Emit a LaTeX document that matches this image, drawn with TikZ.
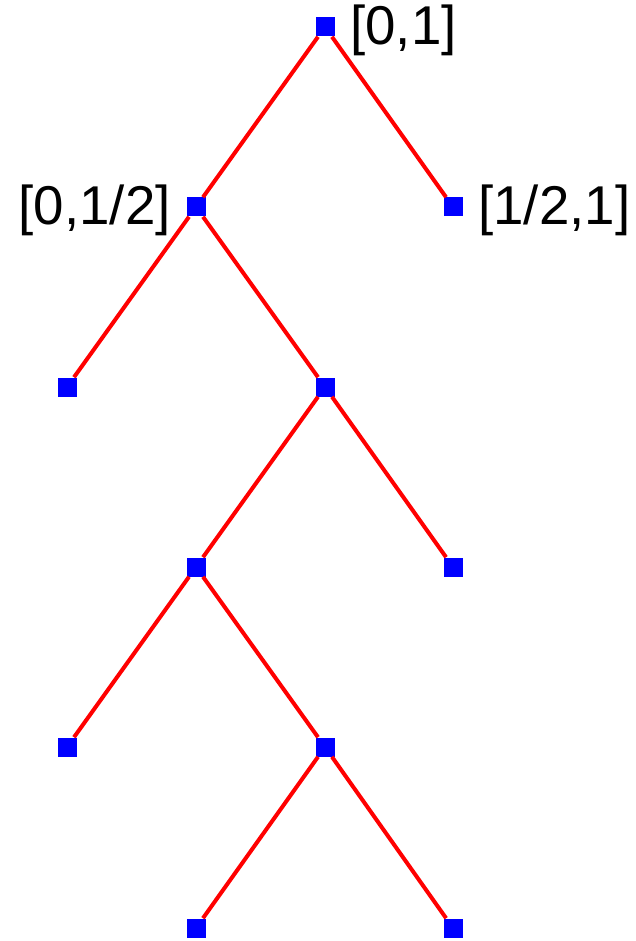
\documentclass[tikz,border=0pt]{standalone}
\usepackage{fontspec}
\setmainfont{Liberation Sans}
\usetikzlibrary{positioning}

\tikzset{
  vert/.style={fill=blue, minimum size=14.25pt, inner sep=0pt},
  edge/.style={red, line width=3pt},
  lab/.style={font=\fontsize{41}{49}\selectfont, inner sep=0pt, yshift=-2.25pt}
}

\begin{document}
\begin{tikzpicture}[x=0.75pt,y=-0.75pt]

  \useasboundingbox (0,0) rectangle (635,941);

  % The vertices of the tree
  \node[vert] (root) at (325,27) {};
  \node[vert] (l) at (196,207) {};
  \node[vert] (r) at (453,207) {};
  \node[vert] (ll) at (67,387) {};
  \node[vert] (lr) at (325,387) {};
  \node[vert] (lrl) at (196,567) {};
  \node[vert] (lrr) at (453,567) {};
  \node[vert] (lrll) at (67,747) {};
  \node[vert] (lrlr) at (325,747) {};
  \node[vert] (lrlrl) at (196,928) {};
  \node[vert] (lrlrr) at (453,928) {};

  % The edges
  \draw[edge] (root) -- (l);
  \draw[edge] (root) -- (r);
  \draw[edge] (l) -- (ll);
  \draw[edge] (l) -- (lr);
  \draw[edge] (lr) -- (lrl);
  \draw[edge] (lr) -- (lrr);
  \draw[edge] (lrl) -- (lrll);
  \draw[edge] (lrl) -- (lrlr);
  \draw[edge] (lrlr) -- (lrlrl);
  \draw[edge] (lrlr) -- (lrlrr);

  % Interval labels
  \node[lab, right=11.5pt of root] (rootlab) {[0,1]};
  \node[lab, left=11.5pt of l] (llab) {[0,1/2]};
  \node[lab, right=11.5pt of r] (rlab) {[1/2,1]};

\end{tikzpicture}
\end{document}
